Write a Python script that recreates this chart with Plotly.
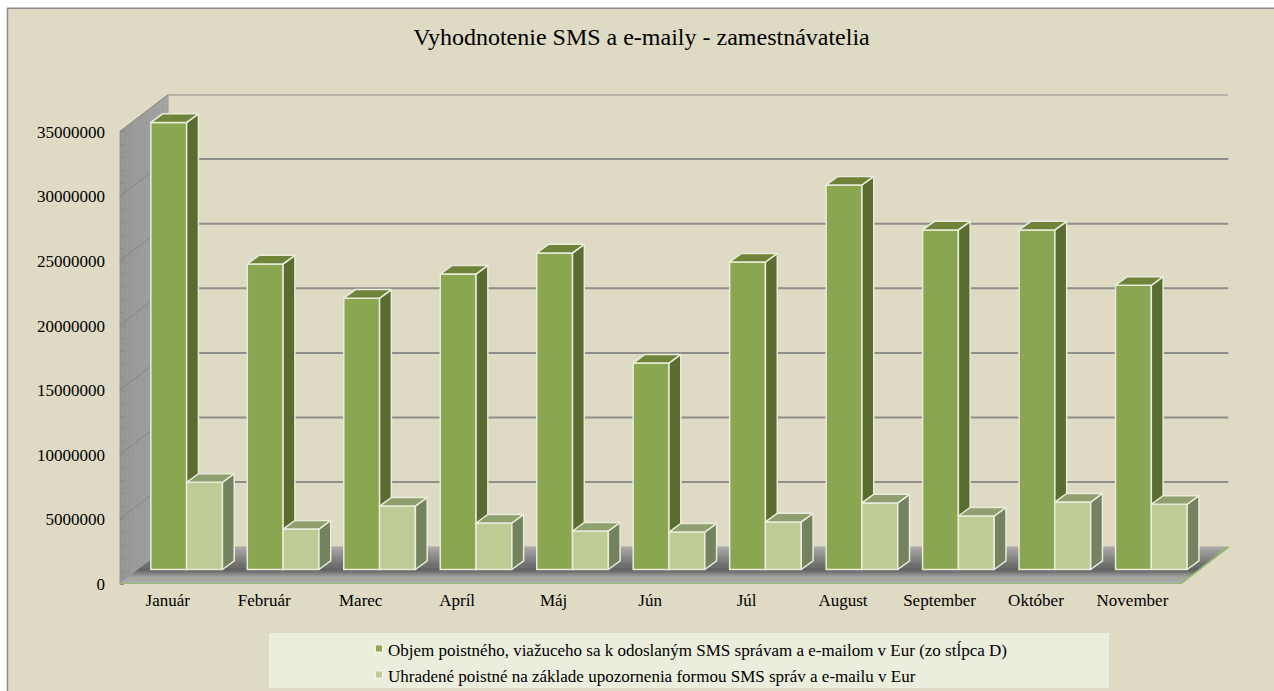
import plotly.graph_objects as go

# ---- data ----
months = ["Január", "Február", "Marec", "Apríl", "Máj", "Jún", "Júl", "August", "September", "Október", "November"]
objem = [34.6e6, 23.65e6, 21.0e6, 22.87e6, 24.5e6, 15.98e6, 23.8e6, 29.76e6, 26.28e6, 26.28e6, 22.0e6]
uhradene = [6.75e6, 3.13e6, 4.91e6, 3.6e6, 2.98e6, 2.9e6, 3.68e6, 5.15e6, 4.14e6, 5.22e6, 5.05e6]
name_objem = "Objem poistného, viažuceho sa k odoslaným SMS správam a e-mailom v Eur (zo stĺpca D)"
name_uhr = "Uhradené poistné na základe upozornenia formou SMS správ a e-mailu v Eur"
y_ticks = [0, 5000000, 10000000, 15000000, 20000000, 25000000, 30000000, 35000000]
minor_ticks = list(range(0, 35000001, 1000000))
title = "Vyhodnotenie SMS a e-maily - zamestnávatelia"

# ---- layout geometry ----
W, H = 1274, 691
PX_X = 96.47      # px per category
PX_Y = 12.92e-6   # px per value unit
LEFT, RIGHT, BOTTOM, TOP = 119.5, 1228.5, 584.0, 94.5
WALL_DX = 48.8 / PX_X          # depth of chart box in x-units
WALL_DY = 37.3 / PX_Y          # depth of chart box in value units
BAR_BASE = 14.5 / PX_Y         # bars stand in the middle of the floor
BAR_W = 35.8 / PX_X
OFF_A, OFF_B = 1.0 / PX_X, 36.8 / PX_X
BAR_DX = 11.8 / PX_X
BAR_DY = 8.6 / PX_Y
x_min, x_front_max = -0.5, 10.5
x_max = x_min + (RIGHT - LEFT) / PX_X
y_max = (BOTTOM - TOP) / PX_Y

BG = "#dfdac4"
EDGE = "#e9ecdc"
GRID = "#8e8e8a"
COL_A, COL_B = "#8aa650", "#bccc94"

shapes = []

# chart area: white page margin at the top and left, with a grey frame edge
shapes.append(dict(type="rect", xref="paper", yref="paper", layer="below", x0=7 / W, x1=1, y0=0, y1=1 - 8 / H,
                   fillcolor=BG, line=dict(width=0)))
shapes.append(dict(type="line", xref="paper", yref="paper", layer="below", x0=7 / W, x1=1, y0=1 - 7.5 / H, y1=1 - 7.5 / H,
                   line=dict(color="#c4c4c4", width=1)))
shapes.append(dict(type="line", xref="paper", yref="paper", layer="below", x0=7 / W, x1=1, y0=1 - 8.5 / H, y1=1 - 8.5 / H,
                   line=dict(color="#8a8a8a", width=1)))
shapes.append(dict(type="line", xref="paper", yref="paper", layer="below", x0=7.5 / W, x1=7.5 / W, y0=0, y1=1 - 8 / H,
                   line=dict(color="#8a8a8a", width=1.5)))


def poly(xs, ys, color, line=None, width=0):
    d = "M" + " L".join(f"{x},{y}" for x, y in zip(xs, ys)) + " Z"
    shapes.append(dict(type="path", path=d, xref="x", yref="y", layer="below",
                       fillcolor=color, line=dict(color=line or color, width=width or 0.5)))


def hexmix(c1, c2, t):
    a = [int(c1[i:i + 2], 16) for i in (1, 3, 5)]
    b = [int(c2[i:i + 2], 16) for i in (1, 3, 5)]
    return "#" + "".join(f"{round(p + (q - p) * t):02x}" for p, q in zip(a, b))


# side wall, with a slight left-to-right shading
N = 12
for k in range(N):
    t0, t1 = k / N, (k + 1) / N
    xa, xb = x_min + WALL_DX * t0, x_min + WALL_DX * t1
    ya, yb = WALL_DY * t0, WALL_DY * t1
    poly([xa, xb, xb, xa], [ya, yb, y_ticks[-1] + yb, y_ticks[-1] + ya], hexmix("#949494", "#a4a4a4", (t0 + t1) / 2))

# floor, shaded in strips from the front edge to the back wall
floor_stops = [(0, "#b0b0b0"), (0.2, "#a2a2a2"), (0.38, "#646464"), (0.55, "#6e6e6e"), (1, "#aaaaaa")]


def floor_col(t):
    for (t0, c0), (t1, c1) in zip(floor_stops, floor_stops[1:]):
        if t <= t1:
            return hexmix(c0, c1, (t - t0) / (t1 - t0))
    return floor_stops[-1][1]


N = 37
for k in range(N):
    t0, t1 = k / N, (k + 1) / N
    poly([x_min + WALL_DX * t0, x_front_max + WALL_DX * t0, x_front_max + WALL_DX * t1, x_min + WALL_DX * t1],
         [WALL_DY * t0, WALL_DY * t0, WALL_DY * t1, WALL_DY * t1], floor_col((t0 + t1) / 2))

# gridlines: on the side wall and on the (transparent) back wall
for v in y_ticks:
    if v > 0:
        shapes.append(dict(type="line", xref="x", yref="y", layer="below", x0=x_min, y0=v,
                           x1=x_min + WALL_DX, y1=v + WALL_DY, line=dict(color="#858585", width=1)))
        shapes.append(dict(type="line", xref="x", yref="y", layer="below", x0=x_min + WALL_DX, y0=v + WALL_DY,
                           x1=x_max, y1=v + WALL_DY, line=dict(color=GRID, width=2)))

# green front and right floor edge
for (xa, ya, xb, yb) in [(x_min, 0, x_front_max, 0), (x_front_max, 0, x_max, WALL_DY)]:
    shapes.append(dict(type="line", xref="x", yref="y", layer="below", x0=xa, y0=ya, x1=xb, y1=yb,
                       line=dict(color="#93bd66", width=1.5)))

# legend panel and its small swatches
shapes.append(dict(type="rect", xref="paper", yref="paper", layer="below", x0=269 / W, x1=1109 / W,
                   y0=1 - 688 / H, y1=1 - 633 / H, fillcolor="#ebeedd", line=dict(width=0)))
for yc, col in [(648.5, COL_A), (674.5, COL_B)]:
    shapes.append(dict(type="rect", xref="paper", yref="paper", layer="below", x0=375.5 / W, x1=382.5 / W,
                       y0=1 - (yc + 3.5) / H, y1=1 - (yc - 3.5) / H, fillcolor=col,
                       line=dict(color="#f4f5ec", width=1)))

fig = go.Figure()


def faces(offset, values, clip=None):
    side_x, side_y, top_x, top_y = [], [], [], []
    for i, v in enumerate(values):
        x1 = i + offset + BAR_W / 2
        x0 = x1 - BAR_W
        top = BAR_BASE + v
        low = BAR_BASE + (clip[i] if clip else 0)
        low2 = low + (0 if clip else BAR_DY)
        side_x += [x1, x1 + BAR_DX, x1 + BAR_DX, x1, x1, None]
        side_y += [top, top + BAR_DY, low2, low, top, None]
        top_x += [x0, x0 + BAR_DX, x1 + BAR_DX, x1, x0, None]
        top_y += [top, top + BAR_DY, top + BAR_DY, top, top, None]
    return side_x, side_y, top_x, top_y


def face(xs, ys, color):
    fig.add_trace(go.Scatter(x=xs, y=ys, mode="lines", fill="toself", fillcolor=color,
                             line=dict(color=EDGE, width=1.5), showlegend=False, hoverinfo="skip"))


def front(offset, values, color, name):
    fig.add_trace(go.Bar(x=[i + offset for i in range(len(values))], y=values, base=BAR_BASE, width=BAR_W,
                         marker=dict(color=color, line=dict(color=EDGE, width=1.5)), name=name, showlegend=False))


front(OFF_A, objem, COL_A, name_objem)
front(OFF_B, uhradene, COL_B, name_uhr)

sx, sy, tx, ty = faces(OFF_A, objem, clip=uhradene)
face(sx, sy, "#5b6c31")
face(tx, ty, "#6f8339")
sx, sy, tx, ty = faces(OFF_B, uhradene)
face(sx, sy, "#74825f")
face(tx, ty, "#8f9f6e")

# legend entries (the swatch itself sits closer to the text, drawn on the panel above)
for nm, grp in [(name_objem, "a"), (name_uhr, "b")]:
    fig.add_trace(go.Scatter(x=[None], y=[None], mode="markers", name=nm, legendgroup=grp,
                             marker=dict(symbol="square", size=7, color="rgba(0,0,0,0)")))

font = "Liberation Serif"
fig.update_layout(
    width=W, height=H, autosize=False,
    margin=dict(l=0, r=0, t=0, b=0, pad=0, autoexpand=False),
    paper_bgcolor="#ffffff", plot_bgcolor="rgba(0,0,0,0)",
    barmode="overlay",
    font=dict(family=font, color="#000000", size=17),
    title=dict(text=title, x=641.5 / W, xanchor="center", y=1 - 37 / H, yanchor="middle",
               font=dict(family=font, size=24, color="#000000")),
    shapes=shapes,
    legend=dict(x=348 / W, xanchor="left", y=1 - 631.5 / H, yanchor="top", bgcolor="rgba(0,0,0,0)",
                borderwidth=0, traceorder="grouped", tracegroupgap=1, itemwidth=30,
                font=dict(family=font, size=17, color="#000000")),
    xaxis=dict(domain=[LEFT / W, RIGHT / W], range=[x_min, x_max], tickvals=list(range(len(months))), ticktext=months,
               ticks="outside", ticklen=1, tickcolor="rgba(0,0,0,0)", showgrid=False, zeroline=False, showline=False,
               tickfont=dict(family=font, size=17)),
    yaxis=dict(domain=[1 - BOTTOM / H, 1 - TOP / H], range=[0, y_max], tickvals=y_ticks, tickformat="d",
               ticks="outside", ticklen=10, tickcolor="rgba(0,0,0,0)", showgrid=False, zeroline=False, showline=False,
               tickfont=dict(family=font, size=17),
               minor=dict(tickvals=minor_ticks, ticks="inside", ticklen=4, tickcolor="#8a8a8a", tickwidth=1)),
)
fig.write_html("out.html", post_script="document.body.style.margin='0';", config=dict(displayModeBar=False))
